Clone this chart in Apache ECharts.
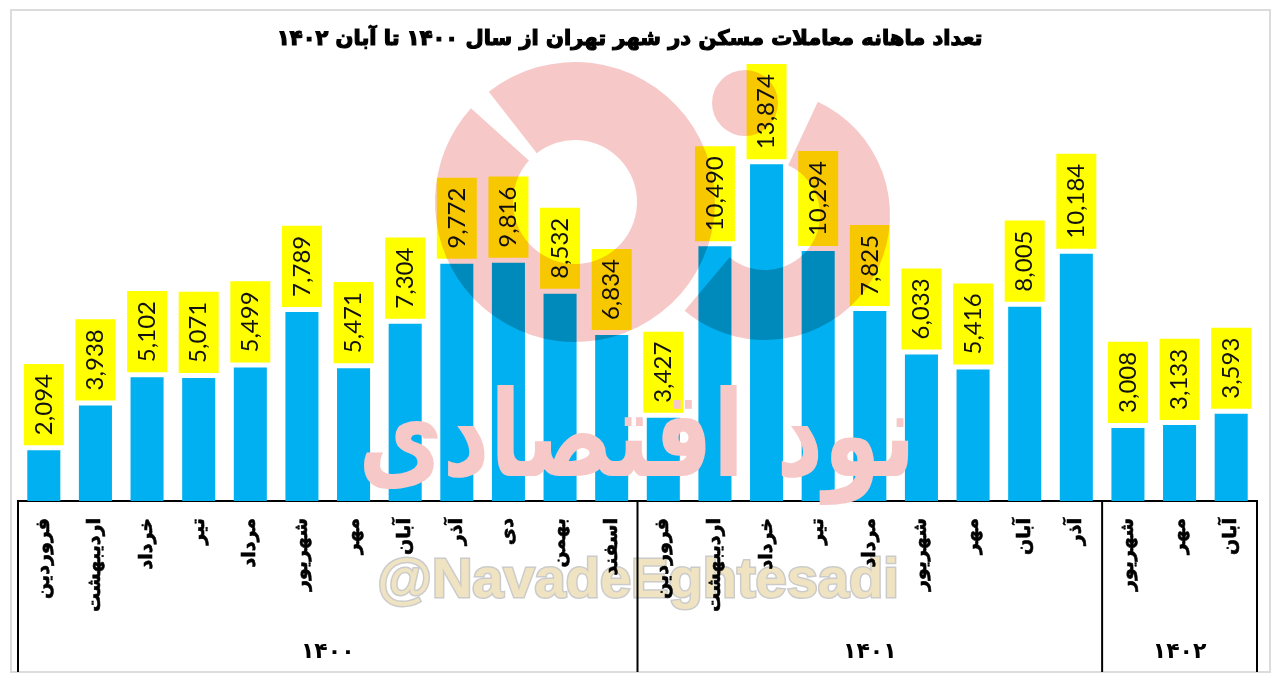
<!DOCTYPE html>
<html>
<head>
<meta charset="utf-8">
<script src="https://cdn.jsdelivr.net/npm/echarts@6/dist/echarts.min.js"></script>
<style>
html,body{margin:0;padding:0;background:#fff;}
#chart{width:1280px;height:686px;}
</style>
</head>
<body>
<div id="chart"></div>
<script>
// ---- data ----
const titleText = 'تعداد ماهانه معاملات مسکن در شهر تهران از سال ۱۴۰۰ تا آبان ۱۴۰۲';
const months1400 = ['فروردین','اردیبهشت','خرداد','تیر','مرداد','شهریور','مهر','آبان','آذر','دی','بهمن','اسفند'];
const months1401 = ['فروردین','اردیبهشت','خرداد','تیر','مرداد','شهریور','مهر','آبان','آذر'];
const months1402 = ['شهریور','مهر','آبان'];
const values1400 = [2094, 3938, 5102, 5071, 5499, 7789, 5471, 7304, 9772, 9816, 8532, 6834];
const values1401 = [3427, 10490, 13874, 10294, 7825, 6033, 5416, 8005, 10184];
const values1402 = [3008, 3133, 3593];
const yearLabels = ['۱۴۰۰', '۱۴۰۱', '۱۴۰۲'];

const groups = [months1400, months1401, months1402];
const categories = [].concat(months1400, months1401, months1402);
const values = [].concat(values1400, values1401, values1402);

const chart = echarts.init(document.getElementById('chart'), null, {renderer: 'canvas'});
const PINK = '#F7C8C8';

chart.setOption({
  animation: false,
  backgroundColor: '#fff',
  title: {
    text: titleText, left: 272, top: 24,
    textStyle: {fontFamily: 'DejaVu Sans', fontWeight: 'bold', fontSize: 21, color: '#000', textBorderColor: '#000', textBorderWidth: 1.2}
  },
  grid: {left: 18, right: 23, top: 64, bottom: 185},
  xAxis: {
    type: 'category', data: categories,
    axisLine: {lineStyle: {color: '#000', width: 2}},
    axisTick: {show: false},
    axisLabel: {rotate: 90, interval: 0, margin: 17, fontFamily: 'DejaVu Sans', fontWeight: 'bold', fontSize: 19, color: '#000', textBorderColor: '#000', textBorderWidth: 0.6}
  },
  yAxis: {type: 'value', min: 0, max: 18000, show: false, splitLine: {show: false}},
  series: [{
    type: 'bar', data: values, barWidth: '64%',
    itemStyle: {color: '#00B0F0'},
    label: {
      show: true, position: 'top', distance: 5, rotate: 90,
      align: 'left', verticalAlign: 'middle',
      formatter: p => p.value.toLocaleString('en-US'),
      fontFamily: 'Lato', fontSize: 24, color: '#111',
      backgroundColor: '#FFFF00', padding: [8, 10, 8, 10], lineHeight: 24
    }
  }]
});

// ---- table lines, year labels and watermarks, placed via the axis scale ----
const c0 = chart.convertToPixel({xAxisIndex: 0}, 0);
const c1 = chart.convertToPixel({xAxisIndex: 0}, 1);
const band = c1 - c0;
const axisY = chart.convertToPixel({yAxisIndex: 0}, 0);
const bottomY = 672;
const boundaries = [0];
groups.forEach(g => boundaries.push(boundaries[boundaries.length - 1] + g.length));
const bx = boundaries.map(i => c0 - band / 2 + i * band);

const deg = d => d * Math.PI / 180;
const wm = {fill: PINK, blend: 'multiply'};
const graphics = [];
graphics.push({type: 'rect', shape: {x: 11, y: 10, width: 1259, height: 662}, style: {fill: 'none', stroke: '#dcdcdc', lineWidth: 2}, z: 1});
// logo watermark (non-overlapping pieces, multiply blend)
graphics.push({type: 'sector', shape: {cx: 575, cy: 202, r: 140, r0: 62, startAngle: deg(-128), endAngle: deg(222)}, style: wm, z: 50});
graphics.push({type: 'sector', shape: {cx: 765, cy: 215, r: 125, r0: 55, startAngle: deg(-65), endAngle: deg(130)}, style: wm, z: 50});
graphics.push({type: 'circle', shape: {cx: 745, cy: 103, r: 33}, style: wm, z: 50});
graphics.push({type: 'text', x: 637, y: 445, scaleY: 1.3, style: {text: 'نود اقتصادی', fontFamily: 'DejaVu Sans', fontWeight: 'bold', fontSize: 92, fill: PINK, align: 'center', verticalAlign: 'middle', blend: 'multiply'}, z: 50});
graphics.push({type: 'text', x: 638, y: 582, style: {text: '@NavadeEghtesadi', fontFamily: 'Liberation Sans', fontWeight: 'bold', fontSize: 56, fill: '#EFE3C2', stroke: '#CBCBCB', lineWidth: 3, align: 'center', verticalAlign: 'middle'}, z: 0});
bx.forEach(x => {
  graphics.push({type: 'line', shape: {x1: x, y1: axisY - 1, x2: x, y2: bottomY}, style: {stroke: '#000', lineWidth: 2}, z: 60});
});
yearLabels.forEach((t, i) => {
  graphics.push({type: 'text', x: (bx[i] + bx[i + 1]) / 2, y: 652, style: {text: t, fontFamily: 'DejaVu Sans', fontWeight: 'bold', fontSize: 22, fill: '#000', align: 'center', verticalAlign: 'middle'}, z: 60});
});
chart.setOption({graphic: graphics});
</script>
</body>
</html>
